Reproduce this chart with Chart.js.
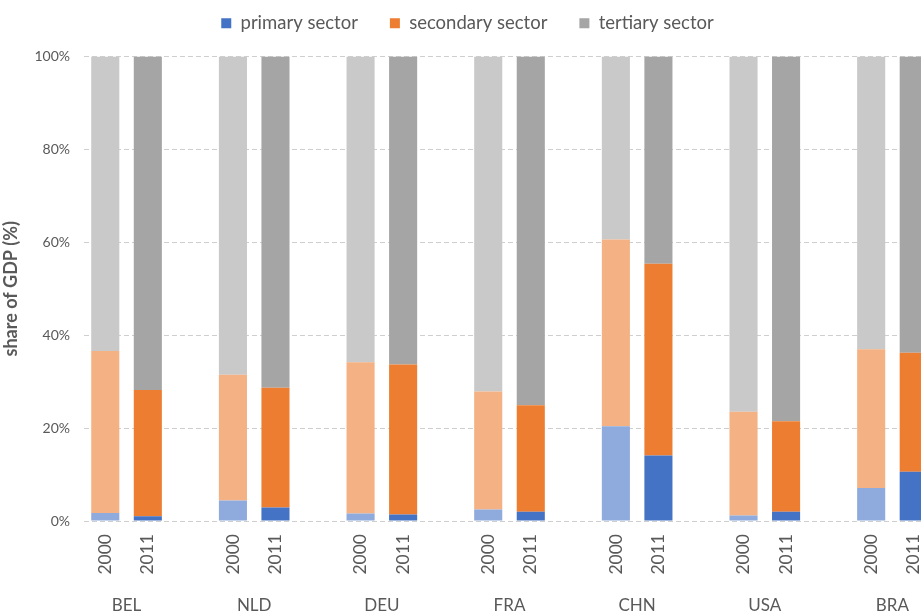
<!DOCTYPE html>
<html>
<head>
<meta charset="utf-8">
<script src="https://cdn.jsdelivr.net/npm/chart.js@4/dist/chart.umd.min.js"></script>
<style>
  html, body { margin: 0; padding: 0; background: #ffffff; overflow: hidden; }
  #wrap { width: 935px; height: 615px; }
</style>
</head>
<body>
<div id="wrap"><canvas id="c" width="935" height="615"></canvas></div>
<script>
// ---- data (shares of GDP, %) ----
const countries = ['BEL', 'NLD', 'DEU', 'FRA', 'CHN', 'USA', 'BRA'];
const years = ['2000', '2011'];
const primary2000   = [1.7, 4.4, 1.6, 2.5, 20.4, 1.2, 7.1];
const primary2011   = [1.0, 2.9, 1.4, 2.0, 14.1, 2.0, 10.6];
const secondary2000 = [34.9, 27.1, 32.6, 25.4, 40.2, 22.3, 29.9];
const secondary2011 = [27.2, 25.8, 32.3, 22.9, 41.3, 19.5, 25.6];
const tertiary2000  = [63.4, 68.5, 65.8, 72.1, 39.4, 76.5, 63.0];
const tertiary2011  = [71.8, 71.3, 66.3, 75.1, 44.6, 78.5, 63.8];
const yTicks = [0, 20, 40, 60, 80, 100];
const seriesNames = ['primary sector', 'secondary sector', 'tertiary sector'];
const darkColors  = ['#4472C4', '#ED7D31', '#A5A5A5'];
const lightColors = ['#8FAADC', '#F4B183', '#C9C9C9'];

// ---- build slot layout: 2000, 2011, gap per country (no trailing gap) ----
const slotLabels = [];
countries.forEach((c, i) => {
  slotLabels.push(years[0], years[1]);
  if (i < countries.length - 1) slotLabels.push('');
});
function slots(v2000, v2011) {
  const out = [];
  countries.forEach((c, i) => {
    out.push(v2000[i], v2011[i]);
    if (i < countries.length - 1) out.push(null);
  });
  return out;
}
function colorSlots(k) {
  const out = [];
  countries.forEach((c, i) => {
    out.push(lightColors[k], darkColors[k]);
    if (i < countries.length - 1) out.push('rgba(0,0,0,0)');
  });
  return out;
}
const seriesData = [
  slots(primary2000, primary2011),
  slots(secondary2000, secondary2011),
  slots(tertiary2000, tertiary2011)
];
const datasets = seriesNames.map((name, k) => ({
  label: name,
  data: seriesData[k],
  backgroundColor: colorSlots(k),
  borderWidth: 0,
  barPercentage: 0.66,
  categoryPercentage: 1.0,
  xAxisID: 'x'
}));

const textColor = '#595959';
const FONT = 'Lato, "Open Sans", sans-serif';
const countryTickValues = countries.map((c, i) => i * 3 + 0.5);

new Chart(document.getElementById('c'), {
  type: 'bar',
  data: { labels: slotLabels, datasets },
  options: {
    responsive: false,
    animation: false,
    devicePixelRatio: 1,
    layout: { padding: { top: -18, left: 0, right: 0, bottom: 0 } },
    plugins: {
      tooltip: { enabled: false },
      legend: {
        position: 'top',
        labels: {
          color: textColor,
          font: { family: FONT, size: 18.5 },
          boxWidth: 10,
          boxHeight: 10,
          padding: 32,
          generateLabels: (chart) => seriesNames.map((n, k) => ({
            text: n,
            fillStyle: darkColors[k],
            strokeStyle: darkColors[k],
            lineWidth: 0,
            fontColor: textColor,
            hidden: false,
            datasetIndex: k
          }))
        }
      }
    },
    scales: {
      x: {
        type: 'category',
        stacked: true,
        offset: true,
        grid: { display: false, drawTicks: false },
        border: { display: false },
        ticks: {
          color: textColor,
          font: { family: FONT, size: 17.5 },
          minRotation: 90,
          maxRotation: 90,
          autoSkip: false,
          padding: 13
        },
        afterFit: (s) => { s.height = 64; s.paddingLeft = 0; s.paddingRight = 0; }
      },
      x2: {
        type: 'linear',
        position: 'bottom',
        offset: false,
        min: -0.5,
        max: slotLabels.length - 0.5,
        grid: { display: false, drawTicks: false, offset: false },
        border: { display: false },
        afterBuildTicks: (s) => { s.ticks = countryTickValues.map(v => ({ value: v })); },
        ticks: {
          color: textColor,
          font: { family: FONT, size: 17 },
          maxRotation: 0,
          autoSkip: false,
          padding: 10,
          callback: (v) => countries[Math.round((v - 0.5) / 3)]
        },
        afterFit: (s) => { s.height = 30; s.paddingLeft = 0; s.paddingRight = 0; }
      },
      xTop: {
        type: 'category',
        position: 'top',
        grid: { display: false, drawTicks: false },
        border: { display: false },
        ticks: { display: false },
        afterFit: (s) => { s.height = 14; s.paddingLeft = 0; s.paddingRight = 0; }
      },
      y: {
        stacked: true,
        min: 0,
        max: 100,
        afterBuildTicks: (s) => { s.ticks = yTicks.map(v => ({ value: v })); },
        grid: {
          color: '#CFCFCF',
          lineWidth: 1,
          drawTicks: false
        },
        border: { display: false, dash: [5, 3] },
        ticks: {
          color: textColor,
          font: { family: FONT, size: 14 },
          padding: 14,
          callback: (v) => v + '%'
        },
        title: {
          display: true,
          text: 'share of GDP (%)',
          color: textColor,
          font: { family: FONT, size: 18, weight: 'bold' },
          padding: { top: 0, bottom: 0 }
        },
        afterFit: (s) => { s.width = 84; }
      }
    }
  }
});
</script>
</body>
</html>
